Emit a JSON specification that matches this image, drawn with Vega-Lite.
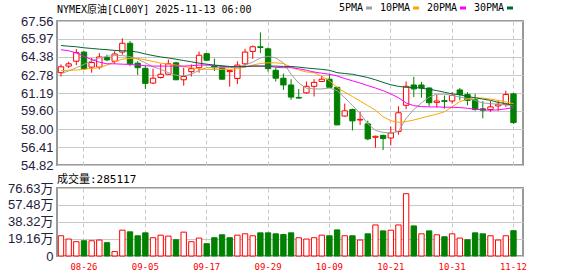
{
  "$schema": "https://vega.github.io/schema/vega-lite/v6.json",
  "background": "white",
  "padding": {"left": 4, "top": 3, "right": 0, "bottom": 0},
  "spacing": 0,
  "config": {
    "view": {"stroke": "#999999", "strokeWidth": 2},
    "axis": {"domain": false, "ticks": false, "title": null, "labelFlush": false, "labelOverlap": false, "labelBound": false, "gridColor": "#c8c8c8", "gridWidth": 1},
    "title": {"fontWeight": "normal", "color": "#000000", "anchor": "start", "frame": "group"}
  },
  "datasets": {
    "k": [
      {"date": "08-21", "open": 62.99, "high": 63.72, "low": 62.65, "close": 63.51, "volume": 228000, "vdir": "up", "5PMA": 62.91, "10PMA": 63.17, "20PMA": 65.02, "30PMA": 65.39},
      {"date": "08-22", "open": 63.57, "high": 63.95, "low": 63.40, "close": 63.77, "volume": 191000, "vdir": "up", "5PMA": 63.14, "10PMA": 63.20, "20PMA": 64.93, "30PMA": 65.33},
      {"date": "08-25", "open": 64.00, "high": 65.07, "low": 63.66, "close": 64.76, "volume": 161000, "vdir": "up", "5PMA": 63.43, "10PMA": 63.22, "20PMA": 64.73, "30PMA": 65.28},
      {"date": "08-26", "open": 64.81, "high": 64.87, "low": 63.22, "close": 63.34, "volume": 172000, "vdir": "down", "5PMA": 63.72, "10PMA": 63.28, "20PMA": 64.44, "30PMA": 65.19},
      {"date": "08-27", "open": 63.48, "high": 64.29, "low": 62.99, "close": 63.89, "volume": 172000, "vdir": "up", "5PMA": 64.06, "10PMA": 63.37, "20PMA": 64.15, "30PMA": 65.13},
      {"date": "08-28", "open": 63.48, "high": 64.73, "low": 63.28, "close": 64.38, "volume": 180000, "vdir": "up", "5PMA": 64.29, "10PMA": 63.43, "20PMA": 63.92, "30PMA": 65.07},
      {"date": "08-29", "open": 64.32, "high": 64.58, "low": 64.00, "close": 64.12, "volume": 150000, "vdir": "down", "5PMA": 64.44, "10PMA": 63.66, "20PMA": 63.77, "30PMA": 65.02},
      {"date": "09-01", "open": 64.00, "high": 64.93, "low": 63.77, "close": 64.64, "volume": 50000, "vdir": "up", "5PMA": 64.50, "10PMA": 63.95, "20PMA": 63.77, "30PMA": 64.96},
      {"date": "09-02", "open": 64.81, "high": 66.03, "low": 64.58, "close": 65.59, "volume": 291000, "vdir": "up", "5PMA": 64.50, "10PMA": 64.18, "20PMA": 63.74, "30PMA": 64.93},
      {"date": "09-03", "open": 65.59, "high": 65.80, "low": 63.57, "close": 63.77, "volume": 272000, "vdir": "down", "5PMA": 64.41, "10PMA": 64.26, "20PMA": 63.72, "30PMA": 64.90},
      {"date": "09-04", "open": 63.83, "high": 64.00, "low": 62.79, "close": 63.43, "volume": 228000, "vdir": "down", "5PMA": 64.18, "10PMA": 64.26, "20PMA": 63.66, "30PMA": 64.81},
      {"date": "09-05", "open": 63.37, "high": 63.57, "low": 61.55, "close": 62.04, "volume": 261000, "vdir": "down", "5PMA": 63.86, "10PMA": 64.12, "20PMA": 63.60, "30PMA": 64.64},
      {"date": "09-08", "open": 62.07, "high": 63.34, "low": 61.98, "close": 62.50, "volume": 206000, "vdir": "up", "5PMA": 63.51, "10PMA": 63.98, "20PMA": 63.57, "30PMA": 64.50},
      {"date": "09-09", "open": 62.56, "high": 63.77, "low": 62.47, "close": 62.85, "volume": 235000, "vdir": "up", "5PMA": 63.28, "10PMA": 63.83, "20PMA": 63.57, "30PMA": 64.38},
      {"date": "09-10", "open": 62.85, "high": 64.15, "low": 62.79, "close": 63.77, "volume": 224000, "vdir": "up", "5PMA": 62.99, "10PMA": 63.74, "20PMA": 63.57, "30PMA": 64.29},
      {"date": "09-11", "open": 63.86, "high": 63.95, "low": 62.33, "close": 62.36, "volume": 183000, "vdir": "down", "5PMA": 62.76, "10PMA": 63.66, "20PMA": 63.57, "30PMA": 64.18},
      {"date": "09-12", "open": 62.36, "high": 63.43, "low": 61.84, "close": 62.65, "volume": 269000, "vdir": "up", "5PMA": 62.70, "10PMA": 63.54, "20PMA": 63.57, "30PMA": 64.06},
      {"date": "09-15", "open": 63.08, "high": 63.72, "low": 62.65, "close": 63.34, "volume": 161000, "vdir": "up", "5PMA": 62.85, "10PMA": 63.43, "20PMA": 63.60, "30PMA": 63.95},
      {"date": "09-16", "open": 63.43, "high": 64.87, "low": 62.99, "close": 64.53, "volume": 202000, "vdir": "up", "5PMA": 63.20, "10PMA": 63.31, "20PMA": 63.66, "30PMA": 63.83},
      {"date": "09-17", "open": 64.67, "high": 64.73, "low": 64.00, "close": 64.09, "volume": 139000, "vdir": "down", "5PMA": 63.43, "10PMA": 63.28, "20PMA": 63.66, "30PMA": 63.74},
      {"date": "09-18", "open": 63.57, "high": 64.24, "low": 63.14, "close": 63.43, "volume": 206000, "vdir": "down", "5PMA": 63.43, "10PMA": 63.28, "20PMA": 63.63, "30PMA": 63.66},
      {"date": "09-19", "open": 63.48, "high": 63.57, "low": 62.39, "close": 62.41, "volume": 239000, "vdir": "down", "5PMA": 63.43, "10PMA": 63.28, "20PMA": 63.54, "30PMA": 63.60},
      {"date": "09-22", "open": 63.08, "high": 63.20, "low": 61.75, "close": 63.17, "volume": 206000, "vdir": "down", "5PMA": 63.43, "10PMA": 63.28, "20PMA": 63.51, "30PMA": 63.54},
      {"date": "09-23", "open": 62.47, "high": 64.00, "low": 61.98, "close": 63.66, "volume": 235000, "vdir": "up", "5PMA": 63.48, "10PMA": 63.34, "20PMA": 63.51, "30PMA": 63.51},
      {"date": "09-24", "open": 63.77, "high": 65.10, "low": 63.57, "close": 64.81, "volume": 250000, "vdir": "up", "5PMA": 63.66, "10PMA": 63.48, "20PMA": 63.51, "30PMA": 63.54},
      {"date": "09-25", "open": 64.87, "high": 65.39, "low": 64.21, "close": 65.28, "volume": 228000, "vdir": "up", "5PMA": 63.92, "10PMA": 63.66, "20PMA": 63.57, "30PMA": 63.57},
      {"date": "09-26", "open": 65.28, "high": 66.55, "low": 64.73, "close": 65.22, "volume": 261000, "vdir": "down", "5PMA": 64.29, "10PMA": 63.80, "20PMA": 63.57, "30PMA": 63.57},
      {"date": "09-29", "open": 65.10, "high": 65.22, "low": 63.08, "close": 63.34, "volume": 261000, "vdir": "down", "5PMA": 64.44, "10PMA": 63.86, "20PMA": 63.57, "30PMA": 63.57},
      {"date": "09-30", "open": 63.20, "high": 63.43, "low": 62.21, "close": 62.50, "volume": 250000, "vdir": "down", "5PMA": 64.29, "10PMA": 63.86, "20PMA": 63.46, "30PMA": 63.57},
      {"date": "10-01", "open": 62.50, "high": 62.91, "low": 61.46, "close": 61.90, "volume": 242000, "vdir": "down", "5PMA": 63.86, "10PMA": 63.80, "20PMA": 63.43, "30PMA": 63.54},
      {"date": "10-02", "open": 61.90, "high": 62.41, "low": 60.59, "close": 60.83, "volume": 261000, "vdir": "down", "5PMA": 62.85, "10PMA": 63.48, "20PMA": 63.43, "30PMA": 63.54},
      {"date": "10-03", "open": 60.80, "high": 61.55, "low": 60.68, "close": 60.74, "volume": 206000, "vdir": "up", "5PMA": 62.07, "10PMA": 63.22, "20PMA": 63.34, "30PMA": 63.48},
      {"date": "10-06", "open": 61.20, "high": 62.21, "low": 61.11, "close": 61.78, "volume": 191000, "vdir": "up", "5PMA": 61.61, "10PMA": 63.05, "20PMA": 63.20, "30PMA": 63.40},
      {"date": "10-07", "open": 61.78, "high": 62.41, "low": 60.88, "close": 62.13, "volume": 206000, "vdir": "up", "5PMA": 61.55, "10PMA": 62.99, "20PMA": 63.05, "30PMA": 63.34},
      {"date": "10-08", "open": 62.21, "high": 62.70, "low": 62.18, "close": 62.41, "volume": 235000, "vdir": "up", "5PMA": 61.55, "10PMA": 62.68, "20PMA": 62.94, "30PMA": 63.28},
      {"date": "10-09", "open": 62.41, "high": 62.85, "low": 61.63, "close": 61.69, "volume": 228000, "vdir": "down", "5PMA": 61.63, "10PMA": 62.27, "20PMA": 62.85, "30PMA": 63.20},
      {"date": "10-10", "open": 61.69, "high": 61.75, "low": 58.34, "close": 58.37, "volume": 294000, "vdir": "down", "5PMA": 61.40, "10PMA": 61.69, "20PMA": 62.70, "30PMA": 62.99},
      {"date": "10-13", "open": 59.15, "high": 60.25, "low": 59.09, "close": 59.61, "volume": 228000, "vdir": "up", "5PMA": 60.77, "10PMA": 61.26, "20PMA": 62.47, "30PMA": 62.91},
      {"date": "10-14", "open": 59.73, "high": 59.81, "low": 57.88, "close": 58.72, "volume": 228000, "vdir": "down", "5PMA": 60.10, "10PMA": 60.88, "20PMA": 62.27, "30PMA": 62.85},
      {"date": "10-15", "open": 58.80, "high": 59.53, "low": 58.37, "close": 58.86, "volume": 180000, "vdir": "up", "5PMA": 59.38, "10PMA": 60.48, "20PMA": 62.07, "30PMA": 62.70},
      {"date": "10-16", "open": 58.46, "high": 58.75, "low": 57.01, "close": 57.13, "volume": 250000, "vdir": "down", "5PMA": 58.46, "10PMA": 60.07, "20PMA": 61.84, "30PMA": 62.56},
      {"date": "10-17", "open": 57.27, "high": 57.42, "low": 56.35, "close": 57.36, "volume": 350000, "vdir": "up", "5PMA": 57.88, "10PMA": 59.67, "20PMA": 61.63, "30PMA": 62.36},
      {"date": "10-20", "open": 57.44, "high": 57.50, "low": 56.14, "close": 57.16, "volume": 283000, "vdir": "down", "5PMA": 57.70, "10PMA": 59.09, "20PMA": 61.40, "30PMA": 62.13},
      {"date": "10-21", "open": 57.21, "high": 58.22, "low": 56.55, "close": 57.65, "volume": 291000, "vdir": "up", "5PMA": 57.65, "10PMA": 58.74, "20PMA": 61.11, "30PMA": 61.92},
      {"date": "10-22", "open": 57.79, "high": 60.02, "low": 57.50, "close": 59.44, "volume": 350000, "vdir": "up", "5PMA": 57.79, "10PMA": 58.60, "20PMA": 60.77, "30PMA": 61.78},
      {"date": "10-23", "open": 60.10, "high": 62.21, "low": 59.76, "close": 61.78, "volume": 702000, "vdir": "up", "5PMA": 58.95, "10PMA": 58.66, "20PMA": 60.31, "30PMA": 61.69},
      {"date": "10-24", "open": 61.90, "high": 62.62, "low": 60.83, "close": 61.55, "volume": 339000, "vdir": "down", "5PMA": 59.73, "10PMA": 58.80, "20PMA": 60.07, "30PMA": 61.69},
      {"date": "10-27", "open": 61.90, "high": 62.18, "low": 60.77, "close": 61.63, "volume": 250000, "vdir": "up", "5PMA": 60.31, "10PMA": 58.98, "20PMA": 59.99, "30PMA": 61.61},
      {"date": "10-28", "open": 61.63, "high": 61.69, "low": 60.02, "close": 60.33, "volume": 283000, "vdir": "down", "5PMA": 60.83, "10PMA": 59.15, "20PMA": 59.96, "30PMA": 61.52},
      {"date": "10-29", "open": 60.36, "high": 61.06, "low": 59.90, "close": 60.48, "volume": 239000, "vdir": "up", "5PMA": 61.09, "10PMA": 59.32, "20PMA": 59.96, "30PMA": 61.40},
      {"date": "10-30", "open": 60.51, "high": 60.97, "low": 59.81, "close": 60.45, "volume": 217000, "vdir": "down", "5PMA": 61.09, "10PMA": 59.53, "20PMA": 59.93, "30PMA": 61.26},
      {"date": "10-31", "open": 60.48, "high": 61.26, "low": 60.25, "close": 60.97, "volume": 250000, "vdir": "up", "5PMA": 60.97, "10PMA": 59.96, "20PMA": 59.93, "30PMA": 61.11},
      {"date": "11-03", "open": 61.46, "high": 61.63, "low": 60.54, "close": 61.06, "volume": 202000, "vdir": "up", "5PMA": 60.83, "10PMA": 60.42, "20PMA": 59.90, "30PMA": 61.03},
      {"date": "11-04", "open": 61.06, "high": 61.26, "low": 60.10, "close": 60.54, "volume": 183000, "vdir": "down", "5PMA": 60.71, "10PMA": 60.65, "20PMA": 59.84, "30PMA": 60.88},
      {"date": "11-05", "open": 60.59, "high": 61.11, "low": 59.61, "close": 59.73, "volume": 261000, "vdir": "down", "5PMA": 60.54, "10PMA": 60.77, "20PMA": 59.76, "30PMA": 60.77},
      {"date": "11-06", "open": 59.79, "high": 60.48, "low": 58.95, "close": 59.67, "volume": 250000, "vdir": "down", "5PMA": 60.31, "10PMA": 60.74, "20PMA": 59.70, "30PMA": 60.65},
      {"date": "11-07", "open": 59.73, "high": 60.48, "low": 59.53, "close": 59.96, "volume": 228000, "vdir": "up", "5PMA": 60.25, "10PMA": 60.65, "20PMA": 59.67, "30PMA": 60.54},
      {"date": "11-10", "open": 60.05, "high": 60.54, "low": 59.61, "close": 60.19, "volume": 180000, "vdir": "up", "5PMA": 60.19, "10PMA": 60.54, "20PMA": 59.70, "30PMA": 60.36},
      {"date": "11-11", "open": 60.19, "high": 61.40, "low": 59.96, "close": 61.06, "volume": 228000, "vdir": "up", "5PMA": 60.13, "10PMA": 60.39, "20PMA": 59.79, "30PMA": 60.25},
      {"date": "11-12", "open": 61.11, "high": 61.20, "low": 58.46, "close": 58.57, "volume": 285117, "vdir": "down", "5PMA": 60.07, "10PMA": 60.25, "20PMA": 59.90, "30PMA": 60.10}
    ]
  },
  "vconcat": [
    {
      "width": 466,
      "height": 144,
      "title": {"text": "NYMEX原油[CL00Y] 2025-11-13 06:00", "font": "DejaVu Sans Mono, Noto Sans CJK SC", "fontSize": 10, "offset": 0},
      "data": {"name": "k"},
      "encoding": {
        "x": {
          "field": "date", "type": "ordinal", "sort": null,
          "scale": {"paddingInner": 0.3, "paddingOuter": 0.53, "align": 0.16},
          "axis": {"labels": false, "grid": true, "gridDash": [4, 3], "bandPosition": 0.5, "minExtent": 0, "maxExtent": 0, "labelPadding": 0, "values": ["08-26", "09-05", "09-17", "09-29", "10-09", "10-21", "10-31", "11-12"]}
        }
      },
      "layer": [
        {
          "mark": {"type": "rule", "strokeWidth": 1},
          "encoding": {
            "y": {
              "field": "low", "type": "quantitative",
              "scale": {"domain": [54.82, 67.56], "zero": false, "nice": false},
              "axis": {"grid": true, "labelOverlap": false, "values": [54.82, 56.41, 58.00, 59.60, 61.19, 62.78, 64.38, 65.97, 67.56], "format": ".2f", "labelFont": "Liberation Sans", "labelFontSize": 13, "labelColor": "#1f2040", "labelPadding": 4, "minExtent": 52, "maxExtent": 52}
            },
            "y2": {"field": "high"},
            "color": {"condition": {"test": "datum.close >= datum.open", "value": "#ff0000"}, "value": "#008000"}
          }
        },
        {
          "mark": {"type": "bar", "strokeWidth": 1},
          "encoding": {
            "y": {
              "field": "open", "type": "quantitative",
              "axis": {"grid": true, "labelOverlap": false, "values": [54.82, 56.41, 58.00, 59.60, 61.19, 62.78, 64.38, 65.97, 67.56], "format": ".2f", "labelFont": "Liberation Sans", "labelFontSize": 13, "labelColor": "#1f2040", "labelPadding": 4, "minExtent": 52, "maxExtent": 52}
            },
            "y2": {"field": "close"},
            "fill": {"condition": {"test": "datum.close >= datum.open", "value": "#ffffff"}, "value": "#008000"},
            "stroke": {"condition": {"test": "datum.close >= datum.open", "value": "#ff0000"}, "value": "#008000"}
          }
        },
        {
          "transform": [{"fold": ["5PMA", "10PMA", "20PMA", "30PMA"], "as": ["series", "value"]}],
          "mark": {"type": "line", "strokeWidth": 1},
          "encoding": {
            "y": {
              "field": "value", "type": "quantitative",
              "axis": {"grid": true, "labelOverlap": false, "values": [54.82, 56.41, 58.00, 59.60, 61.19, 62.78, 64.38, 65.97, 67.56], "format": ".2f", "labelFont": "Liberation Sans", "labelFontSize": 13, "labelColor": "#1f2040", "labelPadding": 4, "minExtent": 52, "maxExtent": 52}
            },
            "color": {
              "field": "series", "type": "nominal",
              "scale": {"domain": ["5PMA", "10PMA", "20PMA", "30PMA"], "range": ["#a0a0a0", "#ffa500", "#ff00ff", "#006633"]},
              "legend": {"orient": "none", "legendX": 307, "legendY": -18, "direction": "horizontal", "title": null, "symbolType": "stroke", "symbolStrokeWidth": 3, "symbolSize": 36, "labelFont": "DejaVu Sans Mono", "labelFontSize": 10, "labelColor": "#000000", "labelAlign": "right", "labelOffset": -11, "gridAlign": "all", "columnPadding": 1, "padding": 0}
            }
          }
        }
      ]
    },
    {
      "width": 466,
      "height": 68,
      "title": {"text": "成交量:285117", "font": "DejaVu Sans Mono, Noto Sans CJK SC", "fontSize": 11, "offset": -3},
      "data": {"name": "k"},
      "mark": {"type": "bar", "strokeWidth": 1},
      "encoding": {
        "x": {
          "field": "date", "type": "ordinal", "sort": null,
          "scale": {"paddingInner": 0.3, "paddingOuter": 0.53, "align": 0.16},
          "axis": {"labelAngle": 0, "grid": true, "gridDash": [4, 3], "bandPosition": 0.5, "labelFont": "DejaVu Sans Mono", "labelFontSize": 9, "labelColor": "#ff0000", "labelPadding": 6, "values": ["08-26", "09-05", "09-17", "09-29", "10-09", "10-21", "10-31", "11-12"]}
        },
        "y": {
          "field": "volume", "type": "quantitative",
          "scale": {"domain": [0, 766300], "nice": false},
          "axis": {"grid": true, "labelOverlap": false, "values": [0, 191600, 383200, 574800, 766300], "labelExpr": "datum.value == 0 ? '0' : format(datum.value / 10000, '.2f') + '万'", "labelFont": "Liberation Sans, Noto Sans CJK SC", "labelFontSize": 13, "labelColor": "#1f2040", "labelPadding": 4, "minExtent": 52, "maxExtent": 52}
        },
        "fill": {"condition": {"test": "datum.vdir == 'up'", "value": "#ffffff"}, "value": "#008000"},
        "stroke": {"condition": {"test": "datum.vdir == 'up'", "value": "#ff0000"}, "value": "#008000"}
      }
    }
  ]
}
